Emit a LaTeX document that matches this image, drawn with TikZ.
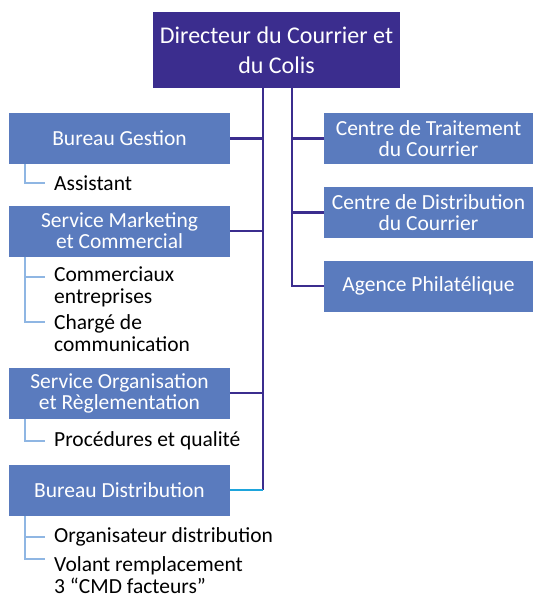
\documentclass[tikz,border=0pt]{standalone}
\usepackage{fontspec}
\setmainfont{Carlito}
\definecolor{dirviolet}{HTML}{3B2D8E}
\definecolor{boxblue}{HTML}{5A7BBE}
\definecolor{ticklight}{HTML}{8FB6E3}
\definecolor{linkcyan}{HTML}{1EA5DC}
\begin{document}
\begin{tikzpicture}[x=1pt,y=-1pt,
  dirbox/.style={fill=dirviolet, text=white, minimum width=247pt, minimum height=76pt, align=center, inner sep=0pt, font=\fontsize{24}{30}\selectfont},
  unit/.style={fill=boxblue, text=white, minimum width=221pt, minimum height=51pt, align=center, inner sep=0pt, font=\fontsize{21.5}{21}\selectfont},
  runit/.style={unit, minimum width=209pt},
  item/.style={anchor=west, align=left, inner xsep=9pt, inner ysep=0pt, font=\fontsize{21.5}{22}\selectfont},
  link/.style={draw=dirviolet, line width=2.6pt},
  tick/.style={draw=ticklight, line width=2pt}]
\useasboundingbox (0,0) rectangle (533,598);
\node[dirbox] (dir) at (276.5,50) {Directeur du Courrier et\\du Colis};
% left side
\node[unit] (bg) at (119.5,138.5) {Bureau Gestion};
\node[unit] (sm) at (119.5,231) {Service Marketing\\et Commercial};
\node[unit] (so) at (119.5,393) {Service Organisation\\et Règlementation};
\node[unit] (bd) at (119.5,490) {Bureau Distribution};
\node[item] (as) at (45,183) {Assistant};
\node[item] (ce) at (45,287) {Commerciaux\\entreprises};
\node[item] (cc) at (45,333.5) {Chargé de\\communication};
\node[item] (pq) at (45,441) {Procédures et qualité};
\node[item] (od) at (45,537) {Organisateur distribution};
\node[item] (vr) at (45,575) {Volant remplacement\\3 “CMD facteurs”};
% right side
\node[runit] (ct) at (428.5,138.5) {Centre de Traitement\\du Courrier};
\node[runit] (cd) at (428.5,212.5) {Centre de Distribution\\du Courrier};
\node[runit] (ag) at (428.5,286) {Agence Philatélique};
\coordinate (tl) at ([xshift=-13.5pt]dir.south);
\coordinate (tr) at ([xshift=15.5pt]dir.south);
\draw[link] (tl) -- (tl |- bd.east);
\draw[link] (bg.east) -- (bg.east -| tl);
\draw[link] (sm.east) -- (sm.east -| tl);
\draw[link] (so.east) -- (so.east -| tl);
\draw[link, draw=linkcyan] (bd.east) -- (bd.east -| tl);
\draw[link] (tr) |- (ag.west);
\draw[link] (ct.west) -- (ct.west -| tr);
\draw[link] (cd.west) -- (cd.west -| tr);
\draw[tick] ([xshift=16pt]bg.south west) |- (as.west);
\draw[tick] ([xshift=16pt]sm.south west) |- ([yshift=11.5pt]cc.west);
\draw[tick] ([xshift=16pt]sm.south west |- ce.west) ++(0,-10) -- ([yshift=10pt]ce.west);
\draw[tick] ([xshift=16pt]so.south west) |- (pq.west);
\draw[tick] ([xshift=16pt]bd.south west) |- ([yshift=16pt]vr.west);
\draw[tick] ([xshift=16pt]bd.south west |- od.west) -- (od.west);
\end{tikzpicture}
\end{document}
